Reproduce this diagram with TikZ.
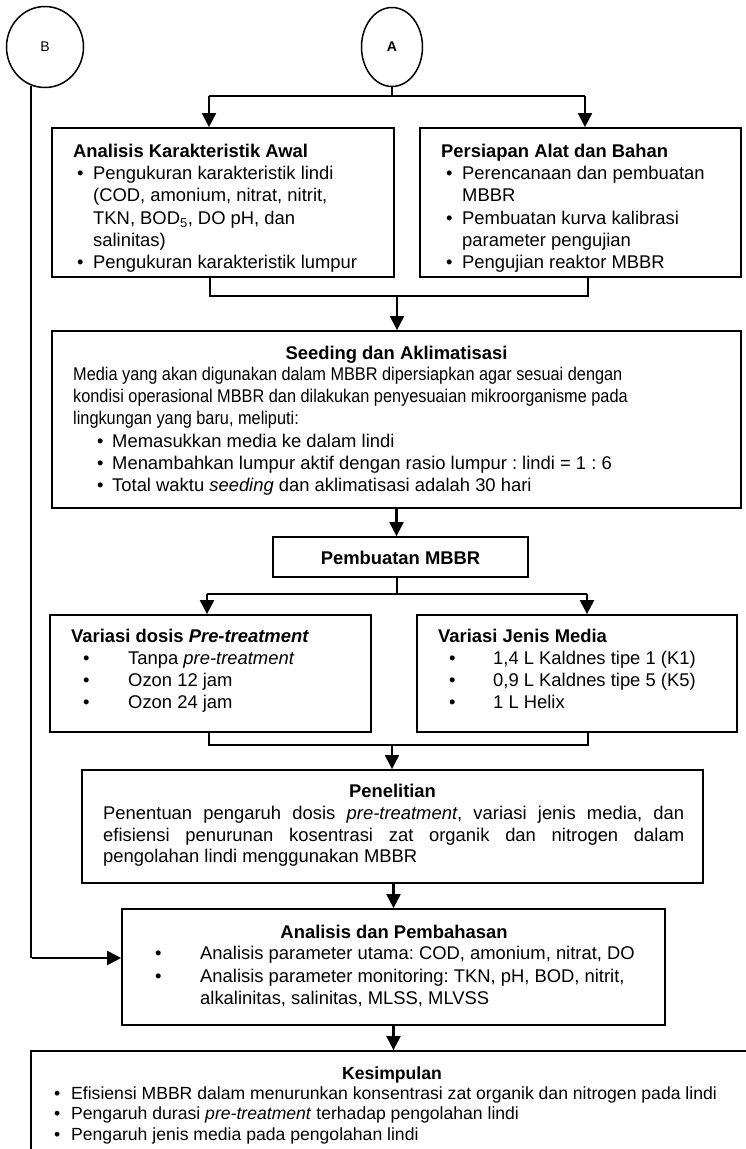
\documentclass[tikz,border=0pt]{standalone}
\usepackage{fontspec}
\setmainfont{Liberation Sans}
\newfontfamily\condfont[FakeStretch=0.886]{Liberation Sans}
\usetikzlibrary{arrows.meta,shapes.geometric}
\newcommand\fsz[2]{\fontsize{#1bp}{#2bp}\selectfont}
\newcommand\bitem[2]{\par\noindent\hangindent=#2bp\hangafter=1\makebox[#2bp][l]{\hspace*{#1bp}\textbullet}\ignorespaces}
\hyphenpenalty=10000
\exhyphenpenalty=10000
\frenchspacing
\begin{document}
\begin{tikzpicture}[x=1bp,y=-1bp,
  box/.style={draw, line width=1.8bp, rectangle, inner sep=0pt},
  txt/.style={inner sep=0pt, anchor=base west},
  ttl/.style={inner sep=0pt, anchor=base, font={\fsz{18.4}{22}\bfseries}},
  conn/.style={line width=1.3bp},
  arr/.style={line width=2.2bp, -{Triangle[width=14bp,length=14bp]}},
  circ/.style={draw, ellipse, line width=1.5bp, inner sep=0pt}]
\useasboundingbox (0,0) rectangle (746,1149);
\fill[white] (0,0) rectangle (746,1149);
\clip (0,0) rectangle (746,1149);

% connector circles
\node[circ, minimum width=77bp, minimum height=81bp, font={\fsz{14}{16}}] (B) at (45,47) {B};
\node[circ, minimum width=61bp, minimum height=79bp, font={\fsz{14}{16}\bfseries}] (A) at (392,47) {A};

% boxes
\node[box, minimum width=342bp, minimum height=149bp] (akl) at (223,202.5) {};
\node[box, minimum width=321bp, minimum height=149bp] (per) at (580.5,202.5) {};
\node[box, minimum width=689bp, minimum height=177bp] (seed) at (396.5,419.5) {};
\node[box, minimum width=255bp, minimum height=40bp] (pmb) at (400.5,557) {};
\node[box, minimum width=321bp, minimum height=117bp] (vdos) at (210.5,673.5) {};
\node[box, minimum width=320bp, minimum height=117bp] (vmed) at (577,673.5) {};
\node[box, minimum width=621bp, minimum height=113bp] (pen) at (392.5,826.5) {};
\node[box, minimum width=543bp, minimum height=116bp] (ana) at (393.5,967) {};
\node[box, minimum width=729bp, minimum height=130bp] (kes) at (395.5,1116) {};

% texts
\begin{scope}
\clip (52,128) rectangle (394,271);
\node[txt] (aklt) at (73,157.5) {\parbox[t]{320bp}{\fsz{18.4}{22.2}%
\textbf{Analisis Karakteristik Awal}
\bitem{4}{20}Pengukuran karakteristik lindi\newline (COD, amonium, nitrat, nitrit,\newline TKN, BOD\textsubscript{5}, DO pH, dan\newline salinitas)
\bitem{4}{20}Pengukuran karakteristik lumpur}};
\end{scope}
\begin{scope}
\clip (420,128) rectangle (741,271);
\node[txt] (pert) at (441,157.5) {\parbox[t]{290bp}{\fsz{18.4}{22.2}%
\textbf{Persiapan Alat dan Bahan}
\bitem{5}{21}Perencanaan dan pembuatan\newline MBBR
\bitem{5}{21}Pembuatan kurva kalibrasi\newline parameter pengujian
\bitem{5}{21}Pengujian reaktor MBBR}};
\end{scope}

\node[ttl] (seedh) at (396.5,359.5) {Seeding dan Aklimatisasi};
\node[txt] (seedt) at (73,380.5) {\parbox[t]{660bp}{\fsz{18.4}{22.2}%
{\condfont Media yang akan digunakan dalam MBBR dipersiapkan agar sesuai dengan\newline kondisi operasional MBBR dan dilakukan penyesuaian mikroorganisme pada\newline lingkungan yang baru, meliputi:}
\bitem{24}{39}Memasukkan media ke dalam lindi
\bitem{24}{39}Menambahkan lumpur aktif dengan rasio lumpur : lindi = 1 : 6
\bitem{24}{39}Total waktu \textit{seeding} dan aklimatisasi adalah 30 hari}};

\node[ttl] (pmbt) at (400.5,564.5) {Pembuatan MBBR};

\node[txt] (vdost) at (71,642.5) {\parbox[t]{290bp}{\fsz{18.4}{22}%
\textbf{Variasi dosis \textit{Pre-treatment}}
\bitem{12}{57}Tanpa \textit{pre-treatment}
\bitem{12}{57}Ozon 12 jam
\bitem{12}{57}Ozon 24 jam}};
\node[txt] (vmedt) at (438,642.5) {\parbox[t]{290bp}{\fsz{18.4}{22}%
\textbf{Variasi Jenis Media}
\bitem{11}{55}1,4 L Kaldnes tipe 1 (K1)
\bitem{11}{55}0,9 L Kaldnes tipe 5 (K5)
\bitem{11}{55}1 L Helix}};

\node[ttl] (pent) at (392.5,797.5) {Penelitian};
\node[txt] (penb) at (103,819.5) {\parbox[t]{581bp}{\fsz{18.4}{21.5}%
Penentuan pengaruh dosis \textit{pre-treatment}, variasi jenis media, dan\linebreak efisiensi penurunan kosentrasi zat organik dan nitrogen dalam\linebreak pengolahan lindi menggunakan MBBR}};

\node[ttl] (anat) at (394,938.5) {Analisis dan Pembahasan};
\node[txt] (anab) at (155,959.5) {\parbox[t]{500bp}{\fsz{18.4}{22.5}%
\bitem{0}{45}Analisis parameter utama: COD, amonium, nitrat, DO
\bitem{0}{45}Analisis parameter monitoring: TKN, pH, BOD, nitrit,\newline alkalinitas, salinitas, MLSS, MLVSS}};

\begin{scope}
\clip (31,1051) rectangle (746,1143);
\node[ttl, font={\fsz{17.6}{20}\bfseries}] (kest) at (392,1079) {Kesimpulan};
\node[txt] (kesb) at (54,1099) {\parbox[t]{690bp}{\fsz{17.6}{20.5}%
\bitem{0}{17}Efisiensi MBBR dalam menurunkan konsentrasi zat organik dan nitrogen pada lindi
\bitem{0}{17}Pengaruh durasi \textit{pre-treatment} terhadap pengolahan lindi
\bitem{0}{17}Pengaruh jenis media pada pengolahan lindi}};
\end{scope}

% connectors
\coordinate (jA) at (392,96);
\coordinate (jAl) at (209,96);
\coordinate (jAr) at (585,96);
\draw[conn] (A.south) -- (A.south |- jA);
\draw[conn] (jAl) -- (jAr);
\draw[arr] (jAl) -- (jAl |- akl.north);
\draw[arr] (jAr) -- (jAr |- per.north);

\coordinate (b1l) at (210,296);
\coordinate (b1r) at (588,296);
\coordinate (b1m) at (397,296);
\draw[conn] (b1l |- akl.south) -- (b1l) -- (b1r) -- (b1r |- per.south);
\draw[arr] (b1m) -- (b1m |- seed.north);

\draw[arr] (seed.south) -- (seed.south |- pmb.north);

\coordinate (j2) at (397,594);
\coordinate (j2l) at (207,594);
\coordinate (j2r) at (587,594);
\draw[conn] (j2 |- pmb.south) -- (j2);
\draw[conn] (j2l) -- (j2r);
\draw[arr] (j2l) -- (j2l |- vdos.north);
\draw[arr] (j2r) -- (j2r |- vmed.north);

\coordinate (b2l) at (209,745);
\coordinate (b2r) at (588,745);
\coordinate (b2m) at (392,745);
\draw[conn] (b2l |- vdos.south) -- (b2l) -- (b2r) -- (b2r |- vmed.south);
\draw[arr] (b2m) -- (b2m |- pen.north);

\draw[arr] (ana.north |- pen.south) -- (ana.north);
\draw[arr] (ana.south) -- (ana.south |- kes.north);

\coordinate (bc) at (32,958);
\draw[conn] (B.250) -- (B.250 |- bc);
\draw[arr, line width=2.4bp] (bc) -- (bc -| ana.west);
\end{tikzpicture}
\end{document}
